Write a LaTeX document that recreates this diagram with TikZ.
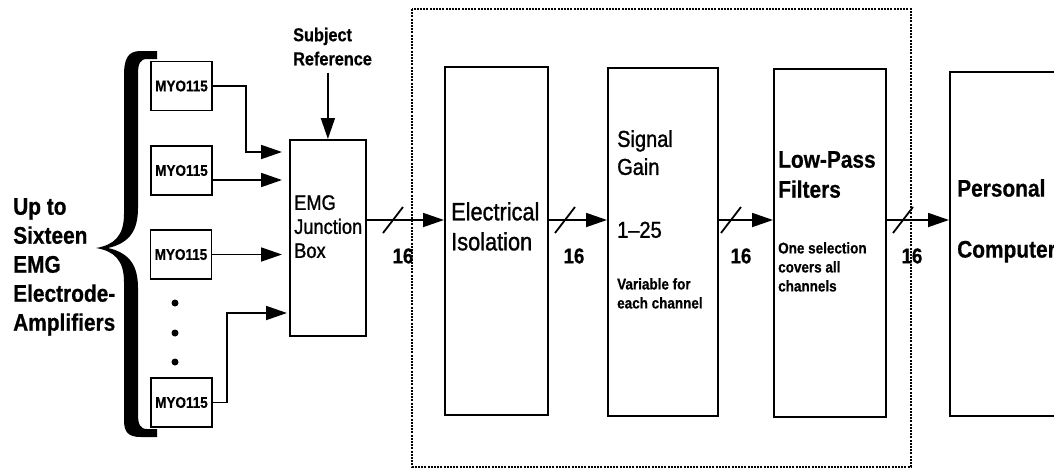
\documentclass[tikz,border=0pt]{standalone}
\usepackage{fontspec}
\setmainfont{Liberation Sans}[FakeStretch=0.87,
  UprightFeatures={FakeBold=1.2}, BoldFeatures={FakeBold=0.6}]
\usetikzlibrary{arrows.meta,positioning,calc}

\begin{document}
\begin{tikzpicture}[
  x=1pt, y=-1pt,
  every node/.style={inner sep=0pt},
  box/.style={draw, line width=1.8pt},
  myo/.style={box, minimum width=61pt, minimum height=49pt,
              font=\bfseries\fontsize{15.5}{18}\selectfont},
  blk/.style={box, anchor=north west, minimum width=#1, minimum height=348pt},
  txt/.style={anchor=north west, align=left},
  bigb/.style={txt, font=\bfseries\fontsize{24}{29}\selectfont},
  bigr/.style={txt, font=\fontsize{23}{28}\selectfont},
  note/.style={txt, font=\bfseries\fontsize{15.5}{19}\selectfont},
  num/.style={font=\bfseries\fontsize{21.5}{24}\selectfont},
  arr/.style={-{Triangle[length=21pt,width=14pt]}, line width=1.8pt},
  slash/.style={line width=1.8pt},
  frame/.style={line width=1.4pt, dash pattern=on 2pt off 1.2pt},
]
  \clip (0,0) rectangle (1054,469);

  % left side: amplifiers
  \node[bigb] (amps) at (13,198) {Up to\\Sixteen\\EMG\\Electrode-\\Amplifiers};
  \fill (157,51) -- (141,51) .. controls (128,51) and (124,58) .. (124,76)
    -- (124,214) .. controls (124,236) and (114,245) .. (96,248)
    .. controls (114,251) and (124,260) .. (124,282)
    -- (124,420) .. controls (124,432) and (128,437) .. (141,437) -- (157,437)
    -- (157,429) -- (147,429) .. controls (140,429) and (138,424) .. (138,414)
    -- (138,288) .. controls (138,266) and (130,253) .. (108,248)
    .. controls (130,243) and (138,230) .. (138,208)
    -- (138,74) .. controls (138,64) and (140,59) .. (147,59) -- (157,59) -- cycle;
  \node[myo] (m1) at (181.5,86) {MYO115};
  \node[myo] (m2) at (181.5,170.5) {MYO115};
  \node[myo] (m3) at (181,254.5) {MYO115};
  \node[myo] (m4) at (181.5,402.5) {MYO115};
  \foreach \y in {303,333,362} \fill (175,\y) circle (3.5pt);

  % junction box
  \node[box, anchor=north west, minimum width=76pt, minimum height=196pt] (jb) at (289,139) {};
  \node[txt, font=\fontsize{21}{24}\selectfont] (jbt) at (294,195) {EMG\\Junction\\Box};
  \node[txt, font=\bfseries\fontsize{18.7}{24}\selectfont] (sref) at (293,27.5) {Subject\\Reference};
  \draw[arr, shorten <=7pt] (jb.north |- sref.south) -- (jb.north);

  \draw[arr, shorten >=7pt] (m1.east) -- ++(33,0) |- ([yshift=-13pt]jb.north west);
  \draw[arr, shorten >=7pt] ([yshift=-9.5pt]m2.east) -- ([yshift=-9.5pt]m2.east -| jb.west);
  \draw[arr, shorten >=7pt] (m3.east) -- (m3.east -| jb.west);
  \draw[arr, shorten >=2pt] (m4.east) -- ++(14,0) |- ([yshift=-174pt]jb.north west);

  % isolated part
  \draw[frame] (412,9) rectangle (911,467);
  \node[blk=103pt] (iso) at (444,66) {};
  \node[txt, font=\fontsize{25}{30}\selectfont] (isot) at (451,202) {Electrical\\Isolation};
  \node[blk=110pt] (gain) at (607,67) {};
  \node[bigr] (gaint) at (617,130) {Signal\\Gain};
  \node[bigr] (gainr) at (617,221.5) {1–25};
  \node[note] (gainn) at (617,278) {Variable for\\each channel};
  \node[blk=112pt] (lpf) at (773,68) {};
  \node[bigb, font=\bfseries\fontsize{24}{30}\selectfont] (lpft) at (778,151) {Low-Pass\\Filters};
  \node[note] (lpfn) at (778,242) {One selection\\covers all\\channels};

  % computer
  \node[box, anchor=north west, minimum width=150pt, minimum height=344pt] (pc) at (949,71) {};
  \node[txt, font=\bfseries\fontsize{24}{61}\selectfont] (pct) at (957,179) {Personal\\Computer};

  % 16-line bus
  \coordinate (bus) at (0,220);
  \draw[arr] (jb.east |- bus) -- (iso.west |- bus);
  \draw[arr] (iso.east |- bus) -- (gain.west |- bus);
  \draw[arr] (gain.east |- bus) -- (lpf.west |- bus);
  \draw[arr] (lpf.east |- bus) -- (pc.west |- bus);
  \foreach \x in {393,565,731,903}
    \draw[slash] (\x-10,233) -- (\x+10,207);
  \foreach \x/\n in {403/1,574/2,741/3,912/4}
    \node[num] (n\n) at (\x,256) {16};
\end{tikzpicture}
\end{document}
